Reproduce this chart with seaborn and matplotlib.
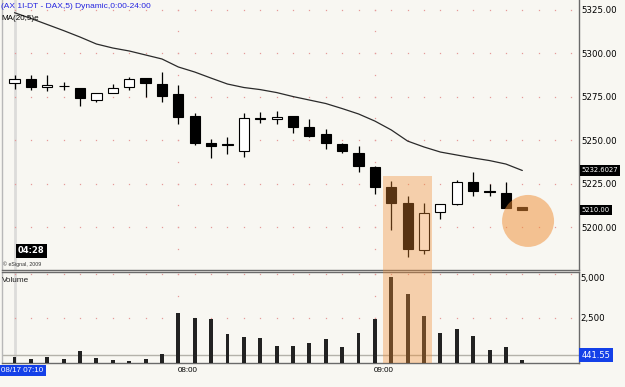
import matplotlib
matplotlib.use("Agg")
import matplotlib.pyplot as plt
from matplotlib.patches import Rectangle, Ellipse
import numpy as np
import pandas as pd
import seaborn as sns

# ---------------- data ----------------
bars = list(range(32))  # 5-minute bars, 07:10 ... 09:45
opens = [5283.0, 5285.2, 5280.7, 5281.3, 5280.2, 5273.1, 5277.3, 5280.7,
         5285.6, 5282.3, 5276.4, 5263.9, 5248.2, 5247.9, 5244.0, 5262.9,
         5262.0, 5263.9, 5257.4, 5253.4, 5247.6, 5242.8, 5234.4, 5222.9,
         5214.1, 5187.0, 5209.0, 5213.3, 5225.8, 5220.6, 5219.8, 5211.4]
highs = [5287.5, 5287.5, 5287.5, 5283.6, 5280.2, 5277.3, 5282.3, 5286.1,
         5285.6, 5289.0, 5281.7, 5265.5, 5250.5, 5252.0, 5265.5, 5266.4,
         5267.0, 5264.0, 5262.0, 5256.4, 5248.6, 5246.8, 5235.2, 5226.7,
         5217.9, 5214.1, 5213.2, 5227.1, 5231.6, 5224.8, 5225.8, 5211.4]
lows = [5279.3, 5278.9, 5278.4, 5278.9, 5269.8, 5271.8, 5277.0, 5278.9,
        5274.6, 5272.1, 5259.3, 5247.2, 5240.0, 5242.0, 5240.5, 5259.7,
        5259.3, 5254.3, 5251.7, 5245.0, 5242.5, 5231.9, 5218.9, 5198.2,
        5182.7, 5184.6, 5204.7, 5212.8, 5218.1, 5217.9, 5210.9, 5210.0]
closes = [5285.0, 5280.7, 5281.7, 5280.9, 5274.1, 5277.0, 5280.2, 5285.0,
          5282.7, 5275.4, 5263.5, 5248.6, 5246.7, 5247.4, 5262.6, 5262.4,
          5263.5, 5257.8, 5252.6, 5248.6, 5243.8, 5235.2, 5222.9, 5214.1,
          5187.3, 5208.0, 5213.2, 5225.8, 5220.8, 5220.3, 5210.9, 5210.0]
ma20 = [5323.3, 5320.0, 5316.5, 5313.0, 5309.3, 5305.3, 5303.0, 5301.3,
        5299.0, 5296.7, 5292.1, 5289.2, 5285.7, 5282.3, 5280.3, 5279.1,
        5277.4, 5275.1, 5273.1, 5271.1, 5268.2, 5265.1, 5261.0, 5255.9,
        5249.5, 5246.1, 5243.2, 5241.5, 5239.8, 5238.3, 5236.3, 5232.6]
volume = [319, 244, 319, 206, 657, 282, 169, 131, 244, 526,
          2834, 2515, 2478, 1652, 1445, 1389, 957, 957, 1126, 1370,
          882, 1671, 2496, 4805, 3867, 2647, 1671, 1933, 1520, 713,
          882, 150]
price_ticks = [5200, 5225, 5250, 5275, 5300, 5325]
volume_ticks = [2500, 5000]
volume_tick_labels = ["2,500", "5,000"]
time_tick_bars = [10, 22]
time_tick_labels = ["08:00", "09:00"]
highlight_bars = [23, 24, 25]
last_price = 5210.00
ma_last = 5232.6027
vol_ref = 441.55
title = "(AX 1I-DT - DAX,5) Dynamic,0:00-24:00"

# ---------------- style ----------------
BG = "#F8F7F2"
sns.set_theme(style="white", rc={"axes.facecolor": BG, "figure.facecolor": BG})
plt.rcParams["font.family"] = ["DejaVu Sans"]
SMALL = ["Liberation Sans", "DejaVu Sans"]
GRID = "#E59A9A"

W, H = 625, 387
fig = plt.figure(figsize=(W / 100, H / 100), dpi=100)


def box(x0, y0, x1, y1):
    return [x0 / W, 1 - y1 / H, (x1 - x0) / W, (y1 - y0) / H]


axp = fig.add_axes(box(2, 0, 579, 270))
axv = fig.add_axes(box(2, 272, 579, 363), sharex=axp)

df = pd.DataFrame(dict(bar=bars, open=opens, high=highs, low=lows,
                       close=closes, ma=ma20, vol=volume))

XMIN, XMAX = -0.765, 34.46
axp.set_xlim(XMIN, XMAX)
axp.set_ylim(5175.4, 5330.6)
axv.set_ylim(0, 5110)

# dotted grid (dots at bar slots)
slots = np.arange(0, 35)
for lv in price_ticks:
    axp.plot(slots, [lv] * len(slots), ls="none", marker="s", ms=0.9,
             mew=0, color=GRID, zorder=1)
for b in time_tick_bars:
    pv = np.arange(5187.5, 5330, 12.5)
    axp.plot([b] * len(pv), pv, ls="none", marker="s", ms=0.9, mew=0,
             color=GRID, zorder=1)
    vv = np.arange(1250, 5001, 1250)
    axv.plot([b] * len(vv), vv, ls="none", marker="s", ms=0.9, mew=0,
             color=GRID, zorder=1)
for lv in volume_ticks:
    axv.plot(slots, [lv] * len(slots), ls="none", marker="s", ms=0.9,
             mew=0, color=GRID, zorder=1)

# cursor line
for ax in (axp, axv):
    ax.axvline(0, color="#DCDCDA", lw=2.0, zorder=0.5)

# candles
for _, r in df.iterrows():
    axp.vlines(r.bar, r.low, r.high, color="black", lw=0.9, zorder=3)
    lo = min(r.open, r.close)
    h = max(abs(r.close - r.open), 0.5)
    up = r.close > r.open
    axp.bar(r.bar, h, bottom=lo, width=0.62,
            color="white" if up else "black", edgecolor="black",
            lw=0.8, zorder=4)

# moving average
sns.lineplot(data=df, x="bar", y="ma", ax=axp, color="#2A2A2A", lw=0.9,
             zorder=5)

# volume
axv.bar(df.bar, df.vol, width=0.24, color="#222222", lw=0, zorder=3)
axv.axhline(vol_ref, color="#B4B2AA", lw=1.0, zorder=2)

for ax in (axp, axv):
    ax.set_xlabel("")
    ax.set_ylabel("")
    ax.set_xticks([])

# axes frames
for ax in (axp, axv):
    for s in ax.spines.values():
        s.set_visible(True)
        s.set_color("#6A6A6A")
        s.set_linewidth(1.0)
    ax.spines["left"].set_color("#B8B8B8")
axp.spines["top"].set_visible(False)

# right-hand price scale
axp.yaxis.tick_right()
axp.set_yticks(price_ticks)
axp.set_yticklabels([f"{v:.2f}" for v in price_ticks])
axp.tick_params(axis="y", length=0, pad=1.5, labelsize=6.2, colors="black")
axv.set_yticks([])
ytr = axv.get_yaxis_transform()
axv.text(1.003, volume_ticks[0], volume_tick_labels[0], transform=ytr,
         ha="left", va="center", fontsize=6.2, color="black")
axv.text(1.003, volume_ticks[1], volume_tick_labels[1], transform=ytr,
         ha="left", va="top", fontsize=6.2, color="black")

# value boxes on the scale
ptr = axp.get_yaxis_transform()
axp.text(1.0045, ma_last, f"{ma_last:.4f}", transform=ptr, ha="left",
         va="center", fontsize=4.9, color="white", clip_on=False,
         bbox=dict(boxstyle="square,pad=0.3", fc="black", ec="none"))
axp.text(1.0045, last_price, f"{last_price:.2f}", transform=ptr, ha="left",
         va="center", fontsize=4.9, color="white", clip_on=False,
         bbox=dict(boxstyle="square,pad=0.3", fc="black", ec="none"))
axv.text(1.005, vol_ref, f"{vol_ref:.2f}", transform=ytr, ha="left",
         va="center", fontsize=6.0, color="white", clip_on=False,
         bbox=dict(boxstyle="square,pad=0.3", fc="#1440E8", ec="none"))

# time labels
xtr = axv.get_xaxis_transform()
for b, lab in zip(time_tick_bars, time_tick_labels):
    axv.text(b - 0.05, -0.08, lab, transform=xtr, ha="left", va="center",
             fontsize=5.8, family=SMALL, color="black")

# texts
fig.text(1 / W, 1 - 6.7 / H, title, ha="left", va="center", fontsize=6.0,
         family=SMALL, color="#2424E0")
fig.text(1 / W, 1 - 19 / H, "MA(20,5)e", ha="left", va="center",
         fontsize=5.8, family=SMALL, color="black")
fig.text(1.5 / W, 1 - 280 / H, "Volume", ha="left", va="center",
         fontsize=5.9, family=SMALL, color="#222222")
fig.text(18 / W, 1 - 250.5 / H, "04:28", ha="left", va="center",
         fontsize=6.0, weight="bold", color="white",
         bbox=dict(boxstyle="square,pad=0.3", fc="black", ec="none"))
fig.text(3 / W, 1 - 264.5 / H, "\u00a9 eSignal, 2009", ha="left",
         va="center", fontsize=3.8, family=SMALL, color="#333333")
fig.text(1.5 / W, 1 - 370.5 / H, "08/17 07:10", ha="left", va="center",
         fontsize=5.8, family=SMALL, color="white",
         bbox=dict(boxstyle="square,pad=0.25", fc="#1440E8", ec="none"))

# highlight band across both panels
x0 = highlight_bars[0] - 0.5
x1 = highlight_bars[-1] + 0.5
top = max(highs[b] for b in highlight_bars) + 2.7
inv = fig.transFigure.inverted()
fx0, fy1 = inv.transform(axp.transData.transform((x0, top)))
fx1, fy0 = inv.transform(axv.transData.transform((x1, 0)))
fig.patches.append(Rectangle((fx0, fy0), fx1 - fx0, fy1 - fy0,
                             transform=fig.transFigure, facecolor="#F08C32",
                             alpha=0.37, lw=0, zorder=10))

# orange marker circle around the last bar
axp.add_patch(Ellipse((bars[-1] + 0.35, last_price - 6.4),
                      width=52 / 16.38, height=52 / 1.74,
                      facecolor="#F08C32", alpha=0.5, lw=0, zorder=8))

fig.savefig("out.png", dpi=100, facecolor=BG)
